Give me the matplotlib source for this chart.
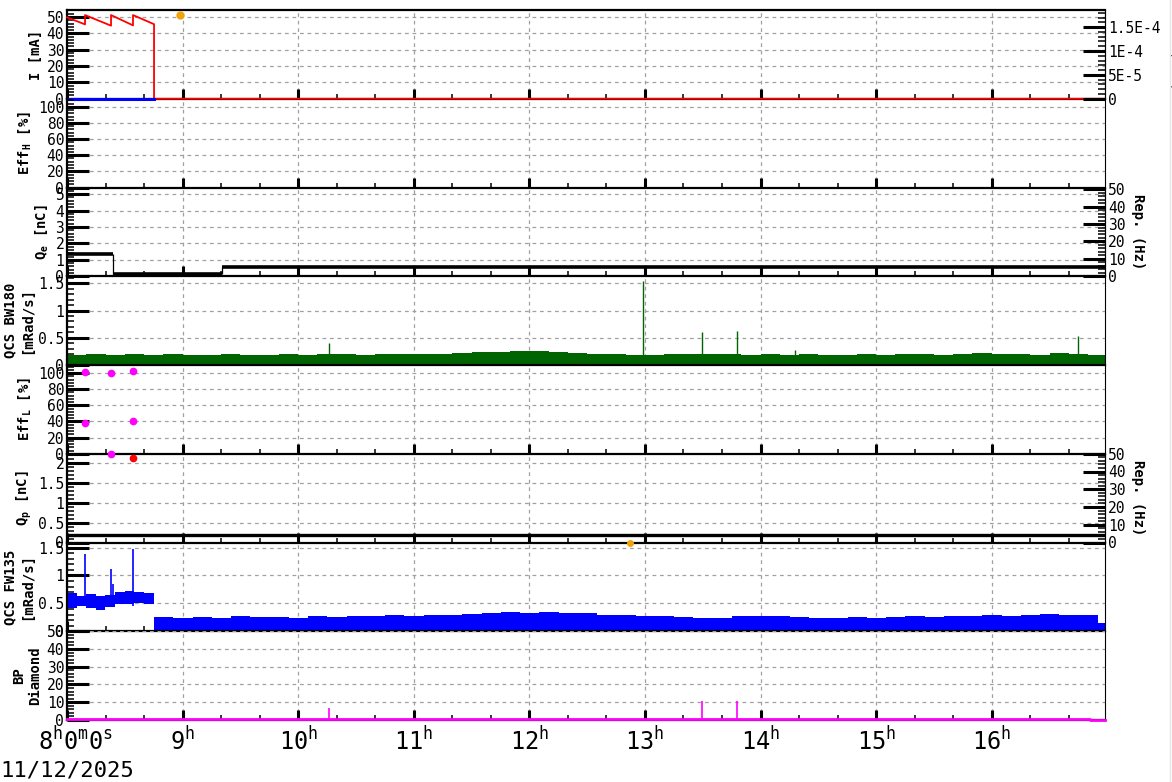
import numpy as np
import matplotlib
matplotlib.use("Agg")
import matplotlib.pyplot as plt
import matplotlib.transforms as mtransforms
from matplotlib.ticker import MultipleLocator, FixedLocator, FuncFormatter
from matplotlib.lines import Line2D

plt.rcParams['font.family'] = ['DejaVu Sans Mono', 'DejaVu Sans']
plt.rcParams['mathtext.fontset'] = 'custom'
plt.rcParams['mathtext.rm'] = 'DejaVu Sans Mono'
plt.rcParams['mathtext.it'] = 'DejaVu Sans Mono'
plt.rcParams['mathtext.bf'] = 'DejaVu Sans Mono:bold'

# ---- data, time in hours of 11/12/2025 ----
t_start = 8.0
t_end = 16.98
hour_ticks = [8, 9, 10, 11, 12, 13, 14, 15, 16]
hour_labels = [r'$8^{h}0^{m}0^{s}$', r'$9^{h}$', r'$10^{h}$', r'$11^{h}$', r'$12^{h}$',
               r'$13^{h}$', r'$14^{h}$', r'$15^{h}$', r'$16^{h}$']
date_text = '11/12/2025'

# beam currents [mA]
ler_t = [8.0, 8.156, 8.156, 8.381, 8.381, 8.571, 8.571, 8.753, 8.753, 16.98]
ler_i = [49.8, 45.5, 51.2, 44.7, 51.2, 44.9, 51.2, 45.6, 0.0, 0.0]
her_t = [8.0, 8.753]
her_i = [0.0, 0.0]
top_dot_t = [8.98]
top_dot_v = [51.2]

# e- charge [nC], step levels
qe_edges = [8.0, 8.40, 9.34, 16.98]
qe_levels = [1.33, 0.12, 0.55]

# LER injection efficiency [%]
effl_t = [8.156, 8.156, 8.381, 8.381, 8.571, 8.571]
effl_v = [101.5, 37.5, 100.0, 0.0, 102.0, 40.5]

# e+ charge [nC]
qp_t = [8.571]
qp_v = [2.13]
qp_line = 0.2
qp_orange_t = [12.87]
qp_orange_v = [0.0]

# QCS BW180 dose rate [mRad/s], upper envelope per 10 minutes from 8:00
bw_hi = [0.19, 0.21, 0.18, 0.20, 0.19, 0.21,
         0.18, 0.19, 0.20, 0.18, 0.19, 0.20,
         0.19, 0.21, 0.20, 0.19, 0.21, 0.20,
         0.21, 0.20, 0.22, 0.23, 0.24, 0.26,
         0.25, 0.23, 0.22, 0.21, 0.20, 0.19,
         0.19, 0.20, 0.21, 0.20, 0.21, 0.19,
         0.20, 0.19, 0.21, 0.18, 0.19, 0.20,
         0.19, 0.21, 0.20, 0.19, 0.20, 0.22,
         0.20, 0.21, 0.19, 0.22, 0.20, 0.18]
bw_lo = 0.0
bw_spike_t = [10.27, 12.98, 13.49, 13.80, 14.30, 16.75]
bw_spike_v = [0.40, 1.54, 0.61, 0.63, 0.27, 0.54]

# QCS FW135 dose rate [mRad/s]
fw_early_t = [8.0, 8.083, 8.167, 8.25, 8.333, 8.417, 8.5, 8.583, 8.667]
fw_early_hi = [0.68, 0.64, 0.66, 0.63, 0.65, 0.71, 0.72, 0.70, 0.69]
fw_early_lo = [0.42, 0.45, 0.41, 0.38, 0.44, 0.48, 0.49, 0.50, 0.48]
fw_drop_t = 8.753
# upper envelope per 10 minutes from 8:45
fw_hi = [0.25, 0.24,
         0.25, 0.23, 0.27, 0.25, 0.26, 0.24,
         0.27, 0.26, 0.28, 0.27, 0.29, 0.28,
         0.30, 0.29, 0.31, 0.33, 0.34, 0.33,
         0.35, 0.33, 0.32, 0.30, 0.29, 0.28,
         0.27, 0.25, 0.23, 0.24, 0.27, 0.28,
         0.28, 0.26, 0.24, 0.23, 0.25, 0.24,
         0.25, 0.27, 0.26, 0.28, 0.27, 0.29,
         0.28, 0.30, 0.31, 0.29, 0.30, 0.15]
fw_lo = 0.0
fw_spike_t = [8.16, 8.38, 8.40, 8.571]
fw_spike_v = [1.39, 1.12, 0.85, 1.48]

# BP diamond
bp_t = [8.0, 8.753, 16.85, 16.98]
bp_v = [0.7, 0.3, 0.0, 0.0]
bp_spike_t = [10.27, 13.49, 13.80]
bp_spike_v = [6.8, 10.7, 10.7]

# ---- panel setup ----
ylabels = ['I [mA]', r'Eff$_\mathbf{H}$ [%]', r'Q$_\mathbf{e}$ [nC]', 'QCS BW180\n[mRad/s]',
           r'Eff$_\mathbf{L}$ [%]', r'Q$_\mathbf{p}$ [nC]', 'QCS FW135\n[mRad/s]', 'BP\nDiamond']
ylims = [54.3, 110, 5.4, 1.63, 110, 2.23, 1.59, 50]
ymajor = [10, 20, 1, 0.5, 20, 0.5, 0.5, 10]
yminor = [2, 4, 0.2, 0.1, 4, 0.1, 0.1, 2]

grid_style = dict(color='#a0a0a0', linestyle=(0, (3, 3)), linewidth=0.9)


def style_y(ax):
    ax.tick_params(axis='y', which='major', direction='in', length=16, width=2.2,
                   labelsize=10.5, pad=2)
    ax.tick_params(axis='y', which='minor', direction='in', length=5, width=1.1)


def style_twin(tw):
    style_y(tw)
    for s in ['left', 'top', 'bottom']:
        tw.spines[s].set_visible(False)
    tw.spines['right'].set_linewidth(0.8)
    tw.xaxis.set_visible(False)


def band(ax, t, hi, lo, end, color):
    tt = list(t) + [end]
    hh = list(hi) + [hi[-1]]
    if np.ndim(lo):
        lo = list(lo) + [lo[-1]]
    ax.fill_between(tt, lo, hh, step='post', color=color, lw=0)


fig, axes = plt.subplots(8, 1, sharex=True, figsize=(11.72, 7.82), dpi=100)
fig.subplots_adjust(left=67 / 1172, right=1105 / 1172, top=1 - 10 / 782,
                    bottom=1 - 720 / 782, hspace=0)

fmt_g = FuncFormatter(lambda v, p: f'{v:g}')

for i, ax in enumerate(axes):
    ax.patch.set_facecolor('none')
    ax.set_xlim(t_start, t_end)
    ax.set_ylim(0, ylims[i])
    ax.yaxis.set_major_locator(MultipleLocator(ymajor[i]))
    ax.yaxis.set_minor_locator(MultipleLocator(yminor[i]))
    ax.yaxis.set_major_formatter(fmt_g)
    ax.xaxis.set_major_locator(FixedLocator(hour_ticks))
    ax.xaxis.set_minor_locator(MultipleLocator(1 / 3))
    style_y(ax)
    ax.tick_params(axis='x', which='major', direction='in', length=7, width=2.2)
    ax.tick_params(axis='x', which='minor', direction='in', length=3.5, width=1.1)
    ax.set_axisbelow(True)
    ax.grid(True, which='major', **grid_style)
    for s in ['left', 'top', 'bottom']:
        ax.spines[s].set_linewidth(1.6)
    if i > 0:
        ax.spines['top'].set_visible(False)
    ax.spines['right'].set_linewidth(0.8)
    ax.set_ylabel(ylabels[i], fontsize=10, fontweight='bold', labelpad=3)

# panel 1: currents
ax = axes[0]
ax.plot(ler_t, ler_i, color='#ff0000', lw=1.3, zorder=4, clip_on=False)
ax.plot(her_t, her_i, color='#0000ff', lw=2.2, zorder=4, clip_on=False)
ax.plot(top_dot_t, top_dot_v, 'o', color='#f0a30a', ms=5, clip_on=False, zorder=5)
tw = ax.twinx()
tw.set_ylim(0, 1.86e-4)
tw.yaxis.set_major_locator(MultipleLocator(5e-5))
tw.yaxis.set_minor_locator(MultipleLocator(1e-5))


def lum_fmt(v, pos):
    if abs(v) < 1e-12:
        return '0'
    m, e = f'{v:.1e}'.split('e')
    m = m.rstrip('0').rstrip('.')
    return f'{m}E{int(e)}'


tw.yaxis.set_major_formatter(FuncFormatter(lum_fmt))
style_twin(tw)
tw.set_ylabel(r'Lum (10$^{34}$)', fontsize=9, rotation=270, labelpad=4, va='bottom')

# panel 3: e- charge
ax = axes[2]
ax.hlines(qe_levels, qe_edges[:-1], qe_edges[1:], color='black', lw=2.6, zorder=4)
ax.vlines(qe_edges[1:-1], qe_levels[1:], qe_levels[:-1], color='black', lw=0.9, zorder=4)

# panel 4: QCS BW180
ax = axes[3]
grid10 = t_start + np.arange(len(bw_hi)) / 6.0
band(ax, grid10, bw_hi, bw_lo, t_end, '#006400')
ax.vlines(bw_spike_t, 0, bw_spike_v, color='#006400', lw=1.0)

# panel 5: Eff_L
ax = axes[4]
ax.plot(effl_t, effl_v, 'o', color='#ff00ff', ms=4.5, clip_on=False, zorder=5)

# panel 6: e+ charge
ax = axes[5]
ax.axhline(qp_line, color='black', lw=2.4)
ax.plot(qp_t, qp_v, 'o', color='#ff0000', ms=4.5, clip_on=False, zorder=5)
ax.plot(qp_orange_t, qp_orange_v, 'o', color='#f0a30a', ms=4, clip_on=False, zorder=5)

# panel 7: QCS FW135
ax = axes[6]
band(ax, fw_early_t, fw_early_hi, fw_early_lo, fw_drop_t, '#0000ff')
grid_fw = fw_drop_t + np.arange(len(fw_hi)) / 6.0
band(ax, grid_fw, fw_hi, fw_lo, t_end, '#0000ff')
ax.vlines(fw_spike_t, 0.45, fw_spike_v, color='#0000ff', lw=1.2)

# panel 8: BP diamond
ax = axes[7]
ax.step(bp_t, bp_v, where='post', color='#ff00ff', lw=2.0, zorder=4, clip_on=False)
ax.vlines(bp_spike_t, 0, bp_spike_v, color='#ff00ff', lw=1.2)

# rep. rate axes
for k, top in [(2, 51), (5, 50)]:
    tw = axes[k].twinx()
    tw.set_ylim(0, top)
    tw.yaxis.set_major_locator(MultipleLocator(10))
    tw.yaxis.set_minor_locator(MultipleLocator(2))
    tw.yaxis.set_major_formatter(fmt_g)
    style_twin(tw)
    tw.set_ylabel('Rep. (Hz)', fontsize=10, fontweight='bold', rotation=270,
                  labelpad=4, va='bottom')

axes[-1].set_xticklabels(hour_labels, fontsize=17)
axes[-1].tick_params(axis='x', which='major', pad=5)
first = axes[-1].get_xticklabels()[0]
first.set_transform(first.get_transform() +
                    mtransforms.ScaledTranslation(9 / 100, 0, fig.dpi_scale_trans))

fig.text(0.0, 1 - 777 / 782, date_text, fontsize=16, va='baseline', ha='left')
fig.add_artist(Line2D([1169.5 / 1172] * 2, [0, 1], color='#e6e6e6', lw=1))

fig.savefig('out.png', dpi=100)
